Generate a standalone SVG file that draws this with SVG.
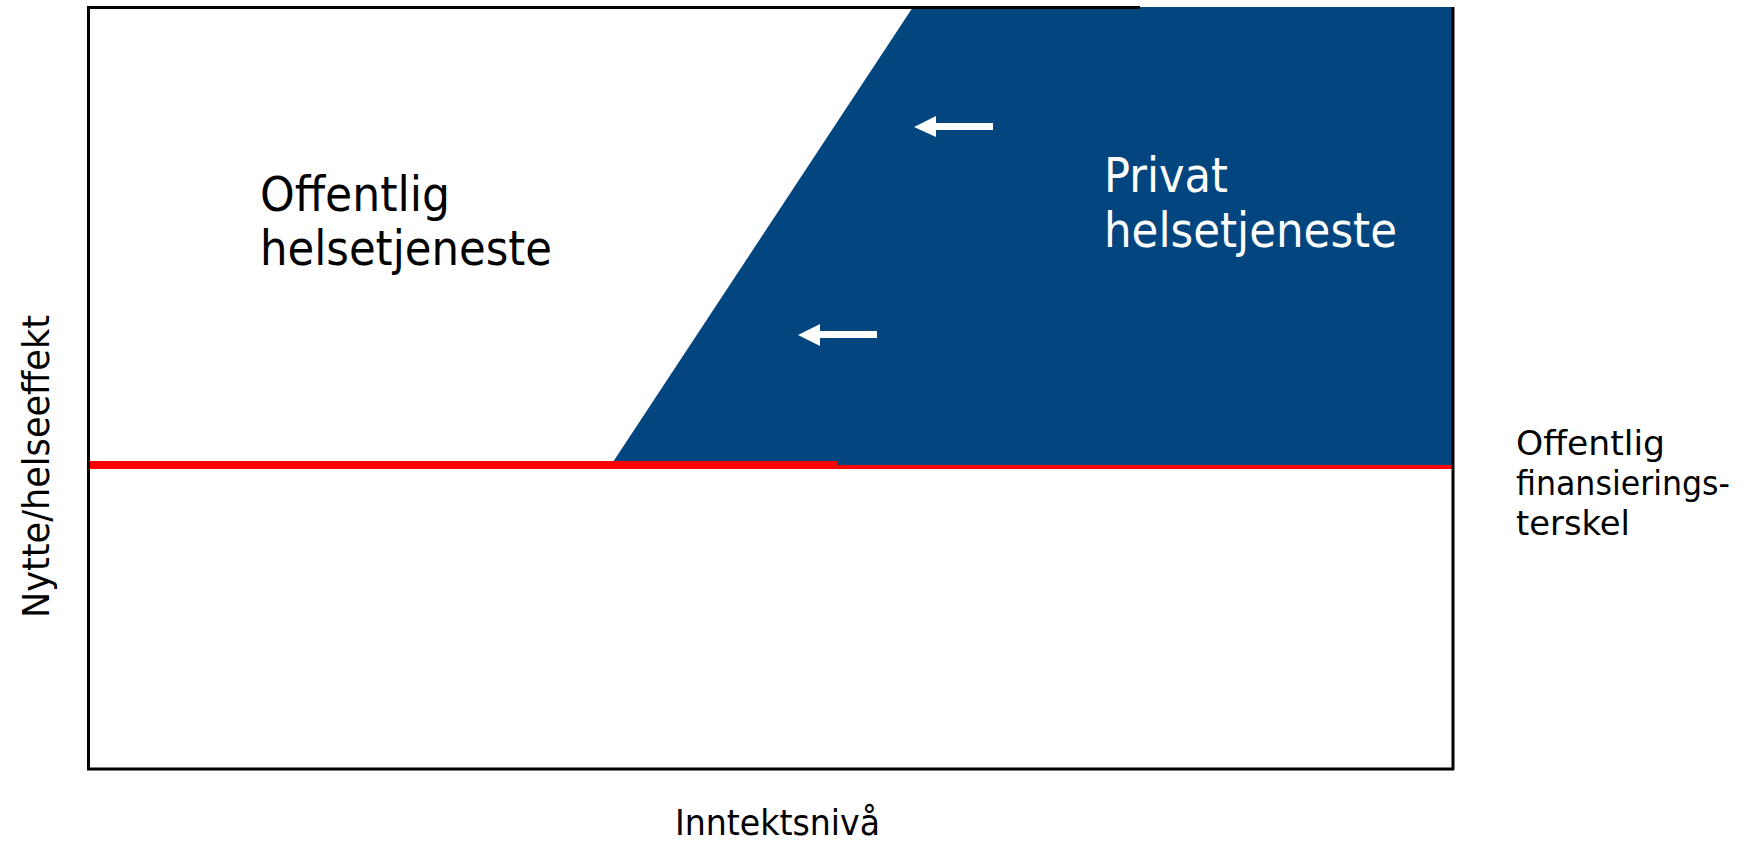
<svg xmlns="http://www.w3.org/2000/svg" width="1744" height="843" viewBox="0 0 1744 843">
  <style>
    .lbl { font-family: "DejaVu Sans", "Liberation Sans", sans-serif; }
    .big { font-size: 48px; }
    .mid { font-size: 35px; }
    .side { font-size: 33px; }
    .dark { fill: #000000; }
    .light { fill: #ffffff; }
    .arrow { fill: #ffffff; }
  </style>
  <rect x="0" y="0" width="1744" height="843" fill="#ffffff"/>
  <g id="private-region">
    <polygon points="913,7 1452,7 1452,465 837,465 837,462 613,462" fill="#03467f"/>
  </g>
  <g id="threshold-line">
    <rect x="88" y="461" width="749" height="8" fill="#ff0000"/>
    <rect x="837" y="465" width="615" height="4" fill="#ff0000"/>
  </g>
  <g id="frame" stroke="#000000" stroke-width="3" fill="none">
    <line x1="88.5" y1="7.5" x2="1140" y2="7.5"/>
    <line x1="88.5" y1="6" x2="88.5" y2="770"/>
    <line x1="87" y1="769" x2="1454" y2="769"/>
    <line x1="1453" y1="7" x2="1453" y2="770"/>
  </g>
  <g id="connectors">
    <polygon class="arrow" points="914,127 936,116 936,123 993,123 993,130 936,130 936,137"/>
    <polygon class="arrow" points="798,335 820,324 820,331 877,331 877,338 820,338 820,346"/>
  </g>
  <g id="public-label">
    <text class="lbl big dark" x="260" y="211" textLength="190" lengthAdjust="spacingAndGlyphs">Offentlig</text>
    <text class="lbl big dark" x="260" y="265" textLength="292" lengthAdjust="spacingAndGlyphs">helsetjeneste</text>
  </g>
  <g id="private-label">
    <text class="lbl big light" x="1104" y="192" textLength="124" lengthAdjust="spacingAndGlyphs">Privat</text>
    <text class="lbl big light" x="1104" y="247" textLength="293" lengthAdjust="spacingAndGlyphs">helsetjeneste</text>
  </g>
  <g id="threshold-label">
    <text class="lbl side dark" x="1516" y="455" textLength="149" lengthAdjust="spacingAndGlyphs">Offentlig</text>
    <text class="lbl side dark" x="1516" y="495" textLength="214" lengthAdjust="spacingAndGlyphs">finansierings-</text>
    <text class="lbl side dark" x="1516" y="535" textLength="114" lengthAdjust="spacingAndGlyphs">terskel</text>
  </g>
  <g id="x-axis-label">
    <text class="lbl mid dark" x="675" y="835" textLength="205" lengthAdjust="spacingAndGlyphs">Inntektsnivå</text>
  </g>
  <g id="y-axis-label">
    <text class="lbl dark" font-size="38" transform="translate(49,618) rotate(-90)" x="0" y="0" textLength="303" lengthAdjust="spacingAndGlyphs">Nytte/helseeffekt</text>
  </g>
</svg>
